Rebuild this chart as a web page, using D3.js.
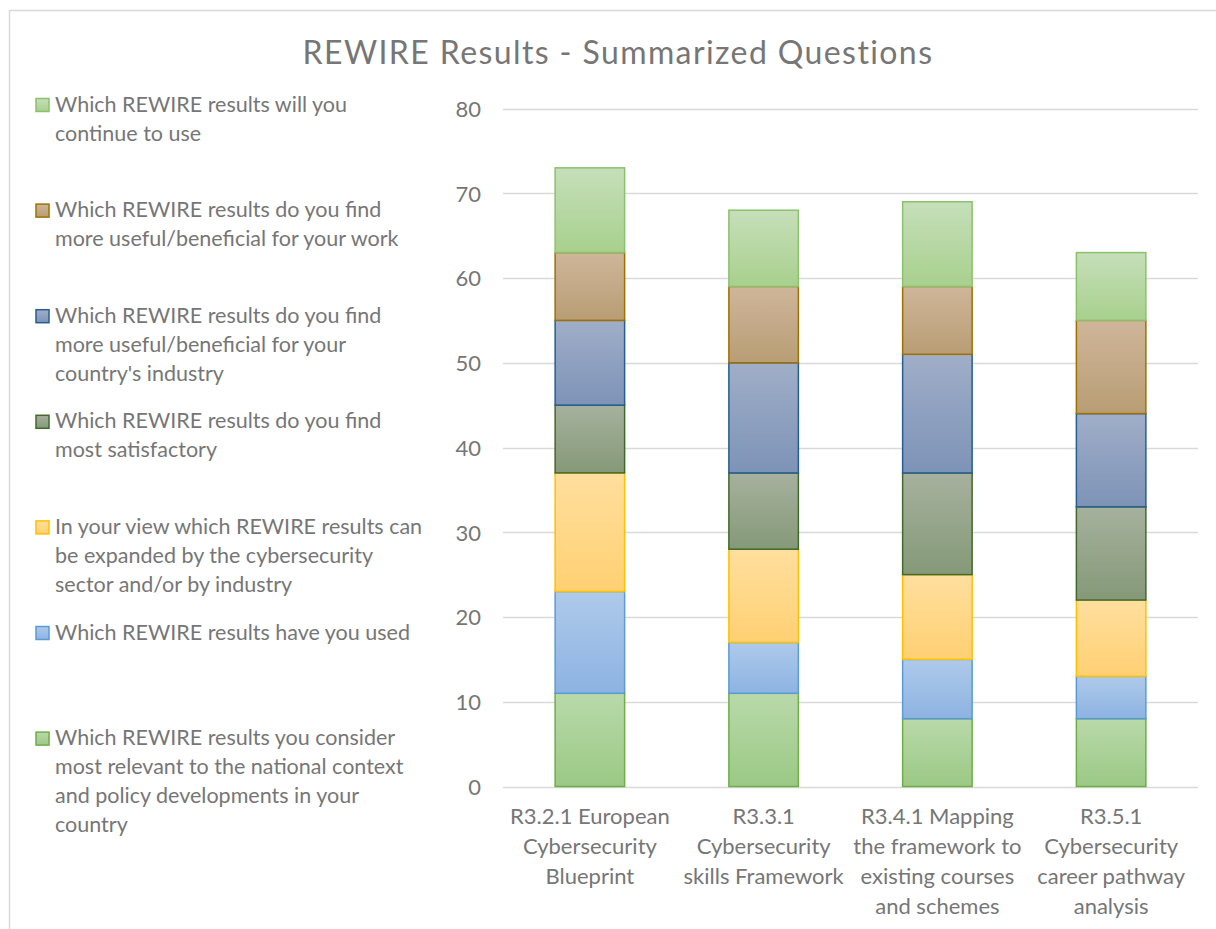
<!DOCTYPE html>
<html>
<head>
<meta charset="utf-8">
<script src="https://cdn.jsdelivr.net/npm/d3@7"></script>
<style>
  html, body { margin: 0; padding: 0; background: #fff; }
  svg { display: block; }
  text { font-family: Lato, "Open Sans", sans-serif; fill: #767676; }
</style>
</head>
<body>
<svg id="chart" width="1216" height="929"></svg>
<script>
// ---- data ----
const title = "REWIRE Results - Summarized Questions";
const categories = [
  "R3.2.1 European Cybersecurity Blueprint",
  "R3.3.1 Cybersecurity skills Framework",
  "R3.4.1 Mapping the framework to existing courses and schemes",
  "R3.5.1 Cybersecurity career pathway analysis"
];
const categoryLines = [
  ["R3.2.1 European", "Cybersecurity", "Blueprint"],
  ["R3.3.1", "Cybersecurity", "skills Framework"],
  ["R3.4.1 Mapping", "the framework to", "existing courses", "and schemes"],
  ["R3.5.1", "Cybersecurity", "career pathway", "analysis"]
];
// series listed bottom of stack -> top
const seriesKeys = ["relevant", "used", "expanded", "satisfactory", "industry", "work", "continue"];
const seriesNames = [
  "Which REWIRE results you consider most relevant to the national context and policy developments in your country",
  "Which REWIRE results have you used",
  "In your view which REWIRE results can be expanded by the cybersecurity sector and/or by industry",
  "Which REWIRE results do you find most satisfactory",
  "Which REWIRE results do you find more useful/beneficial for your country's industry",
  "Which REWIRE results do you find more useful/beneficial for your work",
  "Which REWIRE results will you continue to use"
];
const legendLines = [
  ["Which REWIRE results you consider", "most relevant to the national context", "and policy developments in your", "country"],
  ["Which REWIRE results have you used"],
  ["In your view which REWIRE results can", "be expanded by the cybersecurity", "sector and/or by industry"],
  ["Which REWIRE results do you find", "most satisfactory"],
  ["Which REWIRE results do you find", "more useful/beneficial for your", "country's industry"],
  ["Which REWIRE results do you find", "more useful/beneficial for your work"],
  ["Which REWIRE results will you", "continue to use"]
];
const relevant     = [11, 11, 8, 8];
const used         = [12, 6, 7, 5];
const expanded     = [14, 11, 10, 9];
const satisfactory = [8, 9, 12, 11];
const industry     = [10, 13, 14, 11];
const work         = [8, 9, 8, 11];
const cont         = [10, 9, 10, 8];
const yTicks = [0, 10, 20, 30, 40, 50, 60, 70, 80];

// styles: [top gradient colour, bottom gradient colour, stroke]
const styles = {
  relevant:     ["#b9d9aa", "#9bc985", "#70ad47"],
  used:         ["#aecaea", "#8db3e2", "#5b9bd5"],
  expanded:     ["#ffdf9e", "#ffd073", "#ffc000"],
  satisfactory: ["#a6b19e", "#859978", "#43682b"],
  industry:     ["#a0aec8", "#7d93b7", "#255e91"],
  work:         ["#cfb69a", "#b89d74", "#9e7000"],
  continue:     ["#c6dfba", "#a8d08d", "#8cc16c"]
};

const valuesByKey = { relevant, used, expanded, satisfactory, industry, work, continue: cont };
const table = categories.map((c, i) => {
  const row = { category: c };
  seriesKeys.forEach(k => row[k] = valuesByKey[k][i]);
  return row;
});

// ---- drawing ----
const svg = d3.select("#chart");

// outer chart frame
svg.append("rect")
  .attr("x", 9.5).attr("y", 10.5)
  .attr("width", 1230).attr("height", 940)
  .attr("fill", "#fff").attr("stroke", "#d9d9d9").attr("stroke-width", 1.5);

// gradients
const defs = svg.append("defs");
seriesKeys.forEach(k => {
  const g = defs.append("linearGradient").attr("id", "g-" + k)
    .attr("x1", 0).attr("y1", 0).attr("x2", 0).attr("y2", 1);
  g.append("stop").attr("offset", "0%").attr("stop-color", styles[k][0]);
  g.append("stop").attr("offset", "100%").attr("stop-color", styles[k][1]);
});

// title
svg.append("text")
  .attr("x", 618).attr("y", 64)
  .attr("text-anchor", "middle")
  .style("font-size", "32px")
  .style("letter-spacing", "1.4px")
  .text(title);

const x = d3.scaleBand().domain(categories).range([503, 1198])
  .paddingInner(0.6).paddingOuter(0.3);
const y = d3.scaleLinear().domain([0, 80]).range([786.5, 108.5]);

// gridlines
svg.append("g").selectAll("line").data(yTicks).join("line")
  .attr("x1", 503).attr("x2", 1198)
  .attr("y1", d => Math.round(y(d)) + 0.5).attr("y2", d => Math.round(y(d)) + 0.5)
  .attr("stroke", "#d9d9d9").attr("stroke-width", 1.3);

// y axis labels
const yAxis = d3.axisLeft(y).tickValues(yTicks).tickSize(0).tickPadding(0);
const yg = svg.append("g").attr("transform", "translate(481,0)").call(yAxis);
yg.select(".domain").remove();
yg.selectAll("text")
  .style("font-size", "22px").style("font-family", "Lato, 'Open Sans', sans-serif")
  .attr("fill", "#767676").attr("dy", "0.36em");

// stacked bars
const stack = d3.stack().keys(seriesKeys);
const stacked = stack(table);
svg.append("g").selectAll("g").data(stacked).join("g")
  .attr("fill", d => "url(#g-" + d.key + ")")
  .attr("stroke", d => styles[d.key][2])
  .attr("stroke-width", 1.5)
  .selectAll("rect").data(d => d).join("rect")
    .attr("x", d => x(d.data.category))
    .attr("width", x.bandwidth())
    .attr("y", d => y(d[1]))
    .attr("height", d => y(d[0]) - y(d[1]));

// category labels
const xg = svg.append("g");
categories.forEach((c, i) => {
  const t = xg.append("text")
    .attr("text-anchor", "middle")
    .style("font-size", "22px");
  categoryLines[i].forEach((line, j) => {
    t.append("tspan")
      .attr("x", x(c) + x.bandwidth() / 2)
      .attr("y", 824 + j * 30)
      .text(line);
  });
});

// legend (top -> bottom is reverse of stack order)
const legendOrder = seriesKeys.map((k, i) => i).reverse();
const lg = svg.append("g");
legendOrder.forEach((si, idx) => {
  const base = 111.5 + idx * 105.6;
  const k = seriesKeys[si];
  lg.append("rect")
    .attr("x", 36).attr("y", base - 13).attr("width", 13).attr("height", 13)
    .attr("fill", "url(#g-" + k + ")")
    .attr("stroke", styles[k][2]).attr("stroke-width", 1.5);
  const t = lg.append("text").style("font-size", "21.5px");
  t.append("title").text(seriesNames[si]);
  legendLines[si].forEach((line, j) => {
    t.append("tspan").attr("x", 55).attr("y", base + j * 29).text(line);
  });
});
</script>
</body>
</html>
